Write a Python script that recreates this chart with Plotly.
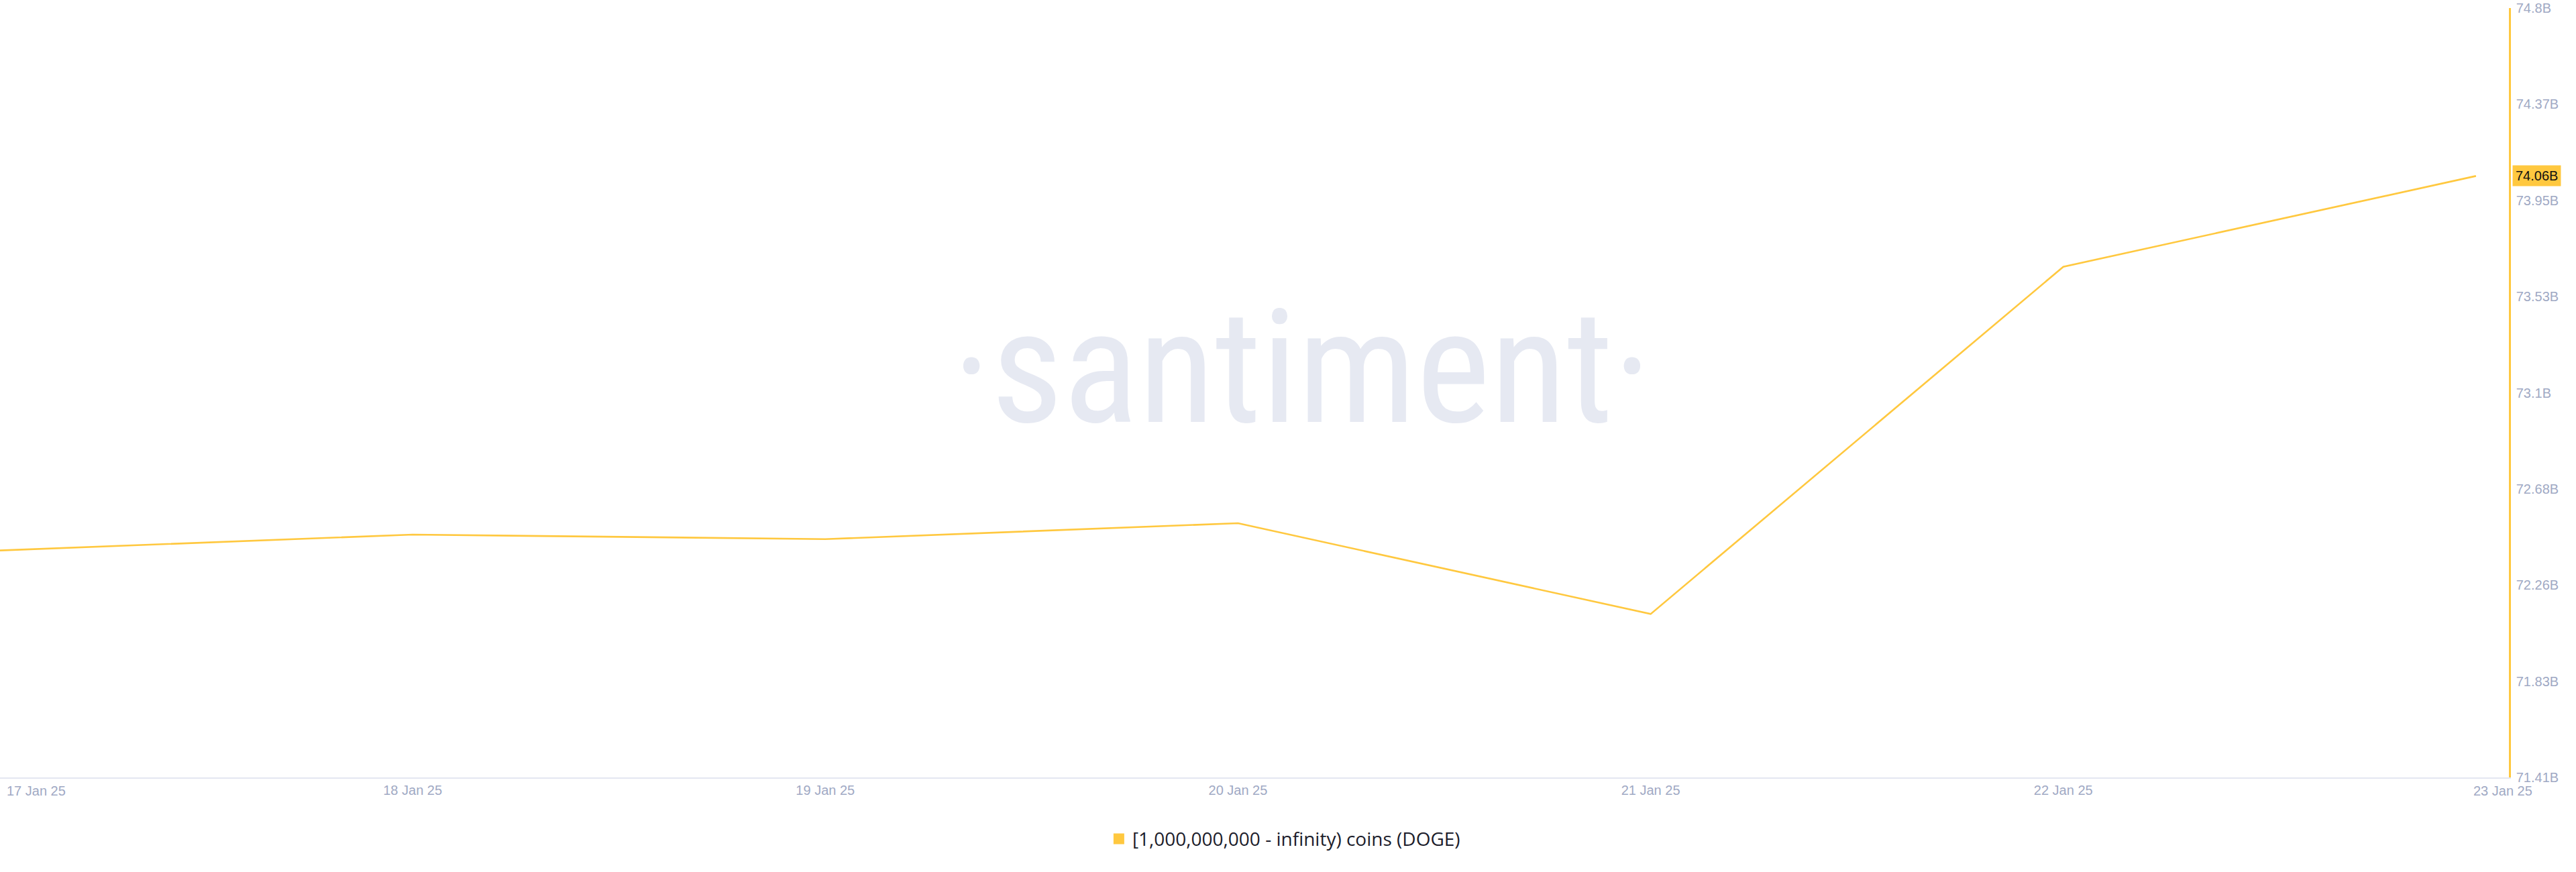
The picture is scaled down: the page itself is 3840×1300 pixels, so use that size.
import numpy as np
import plotly.graph_objects as go

# ---- data ----
dates = ["2025-01-17", "2025-01-18", "2025-01-19", "2025-01-20",
         "2025-01-21", "2025-01-22", "2025-01-23"]
values_b = [72.41, 72.48, 72.46, 72.53, 72.13, 73.66, 74.06]
x_tick_labels = ["17 Jan 25", "18 Jan 25", "19 Jan 25", "20 Jan 25",
                 "21 Jan 25", "22 Jan 25", "23 Jan 25"]
y_tick_labels = ["71.41B", "71.83B", "72.26B", "72.68B", "73.1B",
                 "73.53B", "73.95B", "74.37B", "74.8B"]
y_min, y_max = 71.41, 74.80
series_name = "[1,000,000,000 - infinity) coins (DOGE)"

# ---- style ----
YELLOW = "#ffc83f"
TICK_COLOR = "#9fa9c4"
AXIS_GRAY = "#e4e7f1"
WATERMARK = "#e6e9f2"
FONT = "Liberation Sans, Arial, sans-serif"

fig = go.Figure()
fig.add_trace(go.Scatter(
    x=dates, y=values_b, mode="lines",
    line=dict(color=YELLOW, width=2.6),
    showlegend=False, hoverinfo="skip",
))
# legend entry (square swatch)
fig.add_trace(go.Scatter(
    x=[None], y=[None], mode="markers", name=series_name,
    marker=dict(symbol="square", size=17, color=YELLOW),
    showlegend=True,
))

y_tickvals = list(np.linspace(y_min, y_max, len(y_tick_labels)))

fig.update_layout(
    width=3840, height=1300,
    margin=dict(l=0, r=100, t=12, b=141),
    paper_bgcolor="white", plot_bgcolor="white",
    font=dict(family=FONT, size=20, color=TICK_COLOR),
    xaxis=dict(
        type="date",
        range=["2025-01-17 00:00", "2025-01-23 01:55"],
        tickvals=dates[1:-1], ticktext=x_tick_labels[1:-1],
        showgrid=False, zeroline=False,
        showline=True, linecolor=AXIS_GRAY, linewidth=2,
        ticks="", ticklabelstandoff=0,
        tickfont=dict(family=FONT, size=20, color=TICK_COLOR),
    ),
    yaxis=dict(
        side="right", range=[y_min, y_max],
        tickvals=y_tickvals, ticktext=y_tick_labels,
        showgrid=False, zeroline=False,
        showline=True, linecolor=YELLOW, linewidth=2.5,
        ticks="", ticklabelstandoff=4,
        tickfont=dict(family=FONT, size=20, color=TICK_COLOR),
    ),
    legend=dict(
        orientation="h", x=0.512, xanchor="center", y=-0.080, yanchor="middle",
        font=dict(family="Open Sans, Lato, sans-serif", size=28, color="#1c1d2b"),
        bgcolor="rgba(0,0,0,0)",
    ),
    showlegend=True,
)

# watermark
fig.add_annotation(
    text="·santiment·", xref="paper", yref="paper", x=0.519, y=0.532,
    xanchor="center", yanchor="middle", showarrow=False,
    font=dict(family="Roboto Condensed, Open Sans Condensed, Liberation Sans Narrow, Lato",
              size=235, color=WATERMARK),
)

# edge x labels (kept inside the canvas like the reference)
fig.add_annotation(
    text=x_tick_labels[0], x=dates[0], xref="x", yref="paper", y=0,
    xanchor="left", yanchor="middle", yshift=-20, xshift=8, showarrow=False,
    font=dict(family=FONT, size=20, color=TICK_COLOR),
)
fig.add_annotation(
    text=x_tick_labels[-1], x=dates[-1], xref="x", yref="paper", y=0,
    xanchor="left", yanchor="middle", yshift=-20, xshift=-6, showarrow=False,
    font=dict(family=FONT, size=20, color=TICK_COLOR),
)

# current value badge
fig.add_annotation(
    text=f"{values_b[-1]:.2f}B", xref="paper", x=1, y=values_b[-1], yref="y",
    xanchor="left", yanchor="middle", xshift=5, showarrow=False,
    bgcolor=YELLOW, borderpad=4,
    font=dict(family=FONT, size=20, color="#111111"),
)

fig.write_html("out.html", config={"displayModeBar": False},
               post_script="document.body.style.margin='0';")
